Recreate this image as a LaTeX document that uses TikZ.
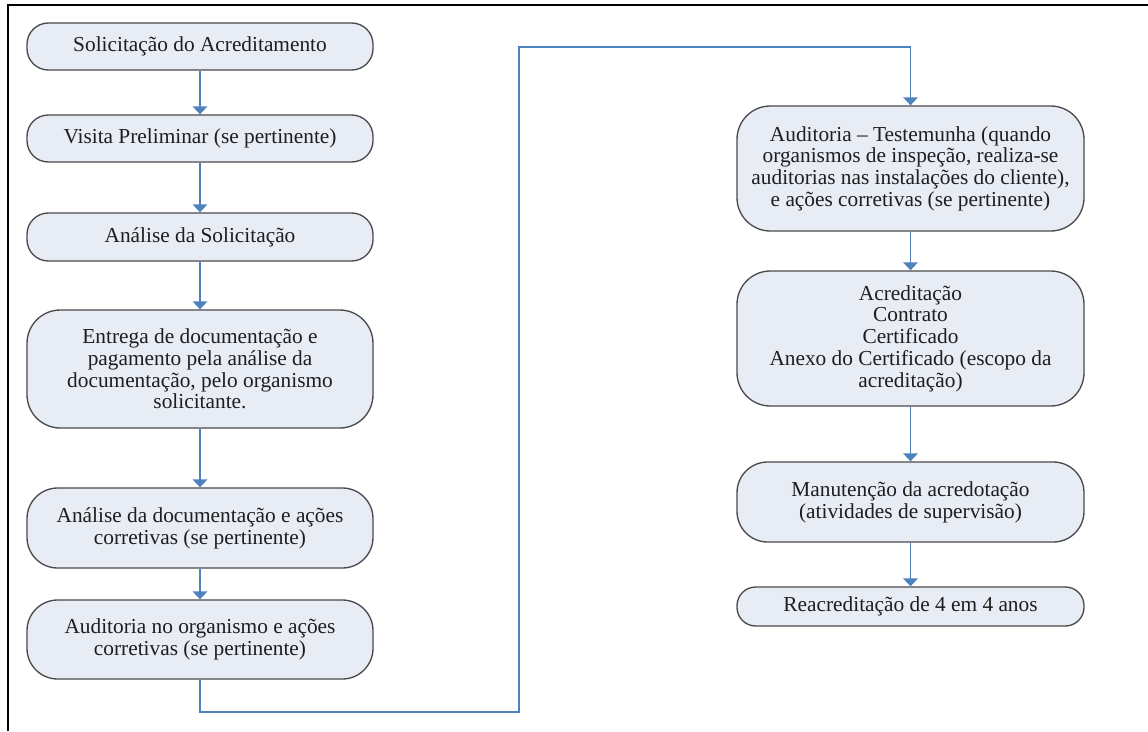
\documentclass[tikz,border=0pt]{standalone}
\usepackage{fontspec}
\setmainfont{Liberation Serif}
\usetikzlibrary{arrows.meta}
\definecolor{boxfill}{HTML}{E7ECF5}
\definecolor{boxdraw}{HTML}{4A4A4A}
\definecolor{connblue}{HTML}{4F81BD}
\definecolor{txt}{HTML}{1E1E1E}
\begin{document}
\begin{tikzpicture}[x=0.75pt,y=-0.75pt,
  procbox/.style={draw=boxdraw, fill=boxfill, line width=1pt, align=center,
    text=txt, inner sep=0pt, font=\fontsize{16pt}{16.3pt}\selectfont},
  conn/.style={draw=connblue, line width=1.1pt, -{Triangle[width=11pt,length=6pt]}},
  frameline/.style={line width=1.9pt, black}]
\useasboundingbox (0,0) rectangle (1148,731);
\draw[frameline] (8,731) -- (8,5) -- (1148,5);

% left column
\node[procbox, minimum width=346*0.75pt, minimum height=47*0.75pt, rounded corners=16pt] (b1) at (200,46.5) {Solicitação do Acreditamento};
\node[procbox, minimum width=346*0.75pt, minimum height=47*0.75pt, rounded corners=16pt] (b2) at (200,138.5) {Visita Preliminar (se pertinente)};
\node[procbox, minimum width=346*0.75pt, minimum height=48*0.75pt, rounded corners=16pt] (b3) at (200,237) {Análise da Solicitação};
\node[procbox, minimum width=346*0.75pt, minimum height=118*0.75pt, rounded corners=25pt] (b4) at (200,369) {Entrega de documentação e\\pagamento pela análise da\\documentação, pelo organismo\\solicitante.};
\node[procbox, minimum width=346*0.75pt, minimum height=80*0.75pt, rounded corners=23pt] (b5) at (200,528) {Análise da documentação e ações\\corretivas (se pertinente)};
\node[procbox, minimum width=346*0.75pt, minimum height=79*0.75pt, rounded corners=23pt] (b6) at (200,639.5) {Auditoria no organismo e ações\\corretivas (se pertinente)};

% right column
\node[procbox, minimum width=347*0.75pt, minimum height=125*0.75pt, rounded corners=25pt] (b7) at (910.5,168.5) {Auditoria -- Testemunha (quando\\organismos de inspeção, realiza-se\\auditorias nas instalações do cliente),\\e ações corretivas (se pertinente)};
\node[procbox, minimum width=347*0.75pt, minimum height=135*0.75pt, rounded corners=25pt] (b8) at (910.5,338.5) {Acreditação\\Contrato\\Certificado\\Anexo do Certificado (escopo da\\acreditação)};
\node[procbox, minimum width=347*0.75pt, minimum height=80*0.75pt, rounded corners=23pt] (b9) at (910.5,502) {Manutenção da acredotação\\(atividades de supervisão)};
\node[procbox, minimum width=347*0.75pt, minimum height=39*0.75pt, rounded corners=14pt] (b10) at (910.5,606.5) {Reacreditação de 4 em 4 anos};

\coordinate (c2) at (519,712);
\coordinate (c3) at (519,47);

\draw[conn] (b1) -- (b2);
\draw[conn] (b2) -- (b3);
\draw[conn] (b3) -- (b4);
\draw[conn] (b4) -- (b5);
\draw[conn] (b5) -- (b6);
\draw[conn] (b6.south) |- (c2) -- (c3) -| (b7.north);
\draw[conn] (b7) -- (b8);
\draw[conn] (b8) -- (b9);
\draw[conn] (b9) -- (b10);
\end{tikzpicture}
\end{document}
